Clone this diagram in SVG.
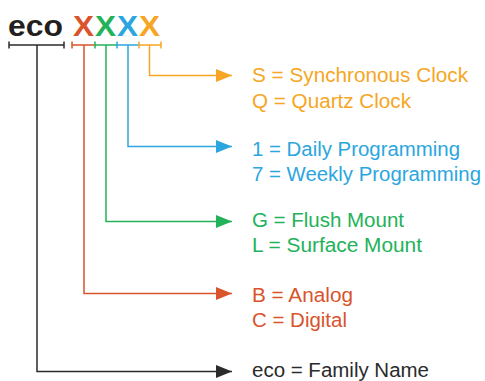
<svg xmlns="http://www.w3.org/2000/svg" width="485" height="381" viewBox="0 0 485 381">
<defs>
<style>
text{font-family:"Liberation Sans",Arial,sans-serif;}
.lbl{font-size:19.5px;}
.ttl{font-size:30px;font-weight:bold;}
.ln{fill:none;stroke-width:1.5;}
.k{stroke:#2b2b2b;} .r{stroke:#d9542c;} .g{stroke:#23b25a;} .b{stroke:#2ba6de;} .o{stroke:#f6a624;}
</style>
<marker id="ak" viewBox="0 0 16 13" refX="16" refY="6.5" markerWidth="16" markerHeight="13" markerUnits="userSpaceOnUse" orient="auto"><path d="M0,0 L16,6.5 L0,13 Z" fill="#2b2b2b"/></marker>
<marker id="ar" viewBox="0 0 16 13" refX="16" refY="6.5" markerWidth="16" markerHeight="13" markerUnits="userSpaceOnUse" orient="auto"><path d="M0,0 L16,6.5 L0,13 Z" fill="#d9542c"/></marker>
<marker id="ag" viewBox="0 0 16 13" refX="16" refY="6.5" markerWidth="16" markerHeight="13" markerUnits="userSpaceOnUse" orient="auto"><path d="M0,0 L16,6.5 L0,13 Z" fill="#23b25a"/></marker>
<marker id="ab" viewBox="0 0 16 13" refX="16" refY="6.5" markerWidth="16" markerHeight="13" markerUnits="userSpaceOnUse" orient="auto"><path d="M0,0 L16,6.5 L0,13 Z" fill="#2ba6de"/></marker>
<marker id="ao" viewBox="0 0 16 13" refX="16" refY="6.5" markerWidth="16" markerHeight="13" markerUnits="userSpaceOnUse" orient="auto"><path d="M0,0 L16,6.5 L0,13 Z" fill="#f6a624"/></marker>
</defs>
<rect width="485" height="381" fill="#ffffff"/>
<g id="title" class="ttl">
<text x="8" y="36" fill="#231f20" textLength="55" lengthAdjust="spacingAndGlyphs">eco</text>
<text x="73" y="36" fill="#d9542c" textLength="21" lengthAdjust="spacingAndGlyphs">X</text>
<text x="95" y="36" fill="#23b25a" textLength="21" lengthAdjust="spacingAndGlyphs">X</text>
<text x="117" y="36" fill="#2ba6de" textLength="21" lengthAdjust="spacingAndGlyphs">X</text>
<text x="139" y="36" fill="#f6a624" textLength="21" lengthAdjust="spacingAndGlyphs">X</text>
</g>
<g id="brackets" class="ln">
<path class="k" d="M9,45 H64 M9,41.5 V48.5 M64,41.5 V48.5"/>
<path class="r" d="M72,45 H95 M72,41.5 V48.5"/>
<path class="g" d="M95,45 H117 M95,41.5 V48.5"/>
<path class="b" d="M117,45 H139 M117,41.5 V48.5"/>
<path class="o" d="M139,45 H161 M139,41.5 V48.5 M161,41.5 V48.5"/>
</g>
<g id="connectors" class="ln">
<path class="o" d="M149.5,45 V75.5 H232" marker-end="url(#ao)"/>
<path class="b" d="M128,45 V146.5 H232" marker-end="url(#ab)"/>
<path class="g" d="M106,45 V221.5 H232" marker-end="url(#ag)"/>
<path class="r" d="M84,45 V293.5 H232" marker-end="url(#ar)"/>
<path class="k" d="M37,45 V371.5 H232" marker-end="url(#ak)"/>
</g>
<g id="clock" class="lbl" fill="#f6a624">
<text x="252" y="82" textLength="216" lengthAdjust="spacingAndGlyphs">S = Synchronous Clock</text>
<text x="252" y="108" textLength="159" lengthAdjust="spacingAndGlyphs">Q = Quartz Clock</text>
</g>
<g id="programming" class="lbl" fill="#2ba6de">
<text x="252" y="156" textLength="208" lengthAdjust="spacingAndGlyphs">1 = Daily Programming</text>
<text x="252" y="181" textLength="229" lengthAdjust="spacingAndGlyphs">7 = Weekly Programming</text>
</g>
<g id="mount" class="lbl" fill="#23b25a">
<text x="252" y="227" textLength="152" lengthAdjust="spacingAndGlyphs">G = Flush Mount</text>
<text x="252" y="252" textLength="170" lengthAdjust="spacingAndGlyphs">L = Surface Mount</text>
</g>
<g id="display" class="lbl" fill="#d9542c">
<text x="252" y="302" textLength="101" lengthAdjust="spacingAndGlyphs">B = Analog</text>
<text x="252" y="327" textLength="95" lengthAdjust="spacingAndGlyphs">C = Digital</text>
</g>
<g id="family" class="lbl" fill="#2b2b2b">
<text x="252" y="377" textLength="177" lengthAdjust="spacingAndGlyphs">eco = Family Name</text>
</g>
</svg>
